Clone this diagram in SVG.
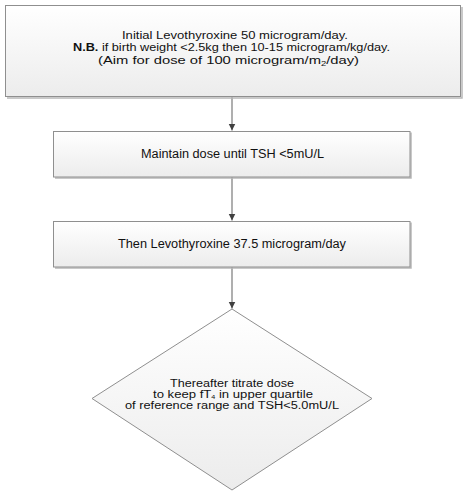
<svg xmlns="http://www.w3.org/2000/svg" width="467" height="500" viewBox="0 0 467 500">
<defs>
<linearGradient id="g" x1="0" y1="0" x2="0" y2="1">
<stop offset="0" stop-color="#ffffff"/>
<stop offset="1" stop-color="#ececec"/>
</linearGradient>
<marker id="arr" markerWidth="8" markerHeight="8" refX="7" refY="4" orient="auto" markerUnits="userSpaceOnUse">
<path d="M0,0.5 L7,4 L0,7.5 Z" fill="#404040"/>
</marker>
</defs>
<style>
.box{fill:url(#g);stroke:#8f8f8f;stroke-width:1}
.sh{fill:none;stroke:#b8b8b8;stroke-width:1.5}
.t{font-family:"Liberation Sans",Arial,sans-serif;font-size:11px;fill:#111111;text-anchor:start}
.m{font-size:12.5px}
.d{font-size:10px}
.c{stroke:#7a7a7a;stroke-width:1.2;fill:none}
</style>
<rect width="467" height="500" fill="#ffffff"/>
<g id="connectors">
<line class="c" x1="232" y1="97" x2="232" y2="130.5" marker-end="url(#arr)"/>
<line class="c" x1="232" y1="177" x2="232" y2="220.5" marker-end="url(#arr)"/>
<line class="c" x1="232" y1="267" x2="232" y2="308.5" marker-end="url(#arr)"/>
</g>
<g id="node1">
<path class="sh" d="M462,7 V98 H7"/>
<rect class="box" x="5.5" y="5.5" width="455" height="91"/>
<text class="t" x="122" y="38.5" textLength="226" lengthAdjust="spacingAndGlyphs">Initial Levothyroxine 50 microgram/day.</text>
<text class="t" x="73" y="51" textLength="317" lengthAdjust="spacingAndGlyphs"><tspan font-weight="bold">N.B.</tspan> if birth weight &lt;2.5kg then 10-15 microgram/kg/day.</text>
<text class="t" x="98" y="63.5" textLength="261" lengthAdjust="spacingAndGlyphs">(Aim for dose of 100 microgram/m<tspan font-size="7px" dy="2">2</tspan><tspan dy="-2">/day)</tspan></text>
</g>
<g id="node2">
<path class="sh" d="M411,132.5 V178 H55"/>
<rect class="box" x="53.5" y="131.5" width="356.5" height="45.5"/>
<text class="t m" x="141" y="158.3" textLength="183" lengthAdjust="spacingAndGlyphs">Maintain dose until TSH &lt;5mU/L</text>
</g>
<g id="node3">
<path class="sh" d="M411,222.5 V268 H55"/>
<rect class="box" x="53.5" y="221.5" width="356.5" height="45.5"/>
<text class="t m" x="118" y="248.3" textLength="228" lengthAdjust="spacingAndGlyphs">Then Levothyroxine 37.5 microgram/day</text>
</g>
<g id="node4">
<path class="box" d="M232,309 L372,398.5 L232,490 L92,398.5 Z"/>
<text class="t d" x="170" y="386.6" textLength="124" lengthAdjust="spacingAndGlyphs">Thereafter titrate dose</text>
<text class="t d" x="153" y="397.6" textLength="160" lengthAdjust="spacingAndGlyphs">to keep fT<tspan font-size="5.5px" dy="1">4</tspan><tspan dy="-1"> in upper quartile</tspan></text>
<text class="t d" x="125" y="408.6" textLength="214" lengthAdjust="spacingAndGlyphs">of reference range and TSH&lt;5.0mU/L</text>
</g>
</svg>
